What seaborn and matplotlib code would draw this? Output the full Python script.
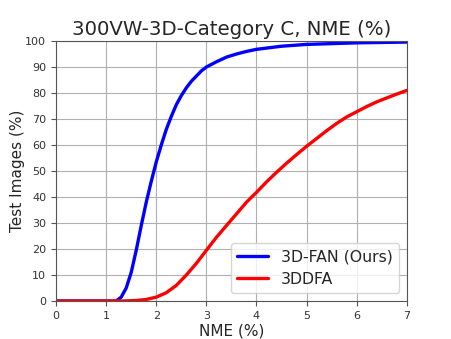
import numpy as np
import pandas as pd
import seaborn as sns
import matplotlib.pyplot as plt

sns.set_style("whitegrid")
plt.rcParams['font.family'] = ['DejaVu Sans']

# curve values
fan_x = [0, 1.2, 1.3, 1.4, 1.5, 1.6, 1.7, 1.8, 1.9, 2.0, 2.1, 2.2, 2.3, 2.4, 2.5,
         2.6, 2.7, 2.8, 2.9, 3.0, 3.2, 3.4, 3.6, 3.8, 4.0, 4.5, 5.0, 5.5, 6.0, 7.0]
fan_y = [0, 0, 1.5, 5, 11, 19.5, 29, 38, 46, 53.5, 60, 66, 71, 75.5, 79,
         82, 84.5, 86.5, 88.5, 90, 92, 93.8, 95, 96, 96.8, 98, 98.7, 99, 99.3, 99.6]
ddfa_x = [0, 1.3, 1.6, 1.8, 2.0, 2.2, 2.4, 2.6, 2.8, 3.0, 3.2, 3.4, 3.6, 3.8, 4.0,
          4.2, 4.4, 4.6, 4.8, 5.0, 5.2, 5.4, 5.6, 5.8, 6.0, 6.2, 6.4, 6.6, 6.8, 7.0]
ddfa_y = [0, 0, 0.2, 0.6, 1.5, 3.2, 6, 10, 14.5, 19.5, 24.5, 29, 33.5, 38, 41.8,
          45.8, 49.5, 53, 56.3, 59.5, 62.5, 65.5, 68.3, 70.8, 72.8, 74.8, 76.6, 78.1, 79.6, 81]
labels = ["3D-FAN (Ours)", "3DDFA"]

df = pd.concat([
    pd.DataFrame({"NME": fan_x, "val": fan_y, "method": labels[0]}),
    pd.DataFrame({"NME": ddfa_x, "val": ddfa_y, "method": labels[1]}),
])

fig = plt.figure(figsize=(4.52, 3.39), dpi=100)
ax = fig.add_axes([0.124, 0.112, 0.776, 0.767])
sns.lineplot(data=df, x="NME", y="val", hue="method", palette=["blue", "red"],
             linewidth=2.4, ax=ax, sort=False)

ax.set_xlim(0, 7)
ax.set_ylim(0, 100)
ax.set_xticks(range(0, 8))
ax.set_yticks(range(0, 101, 10))
ax.tick_params(labelsize=8, length=3.5, color="#555555", left=True, bottom=True,
               labelcolor="#333333")
ax.grid(True, color="#b0b0b0", linewidth=0.8)
for s in ax.spines.values():
    s.set_color("#555555")
    s.set_linewidth(0.8)
ax.set_xlabel("NME (%)", fontsize=11, labelpad=2)
ax.set_ylabel("Test Images (%)", fontsize=11, labelpad=0)
ax.set_title("300VW-3D-Category C, NME (%)", fontsize=14.2, pad=4)
ax.legend(loc="lower right", fontsize=11.3, frameon=True, title=None)

fig.savefig("out.png", dpi=100)
